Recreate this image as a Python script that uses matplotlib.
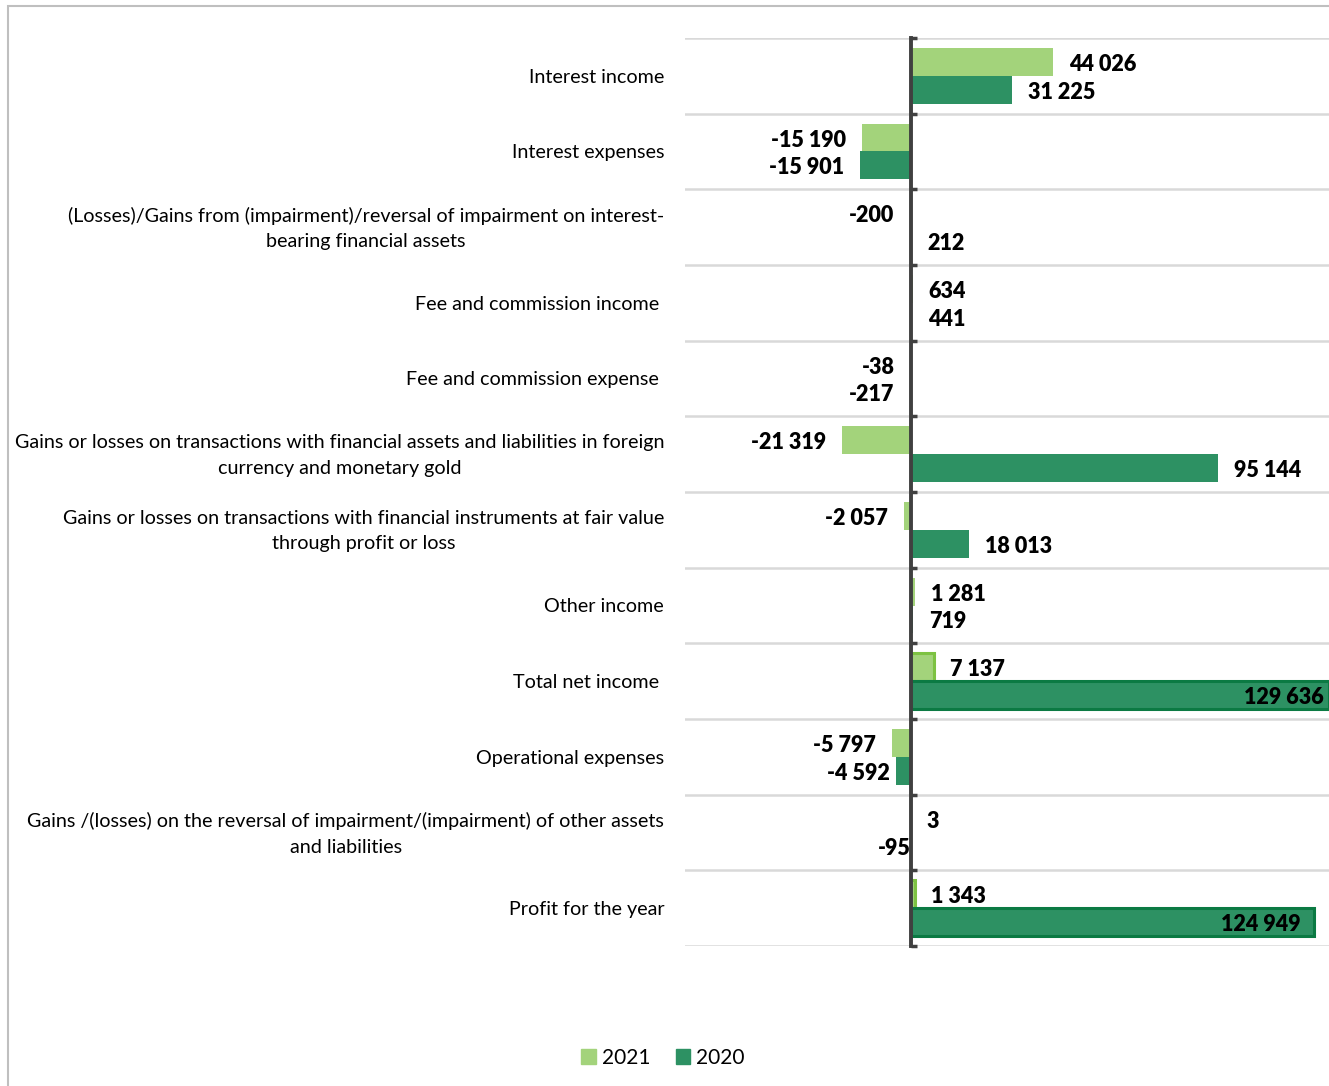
import matplotlib.pyplot as plt
from matplotlib.patches import Rectangle

plt.rcParams['font.family'] = ['Lato', 'DejaVu Sans']

categories = [
    'Interest income',
    'Interest expenses',
    '(Losses)/Gains from (impairment)/reversal of impairment on interest-\nbearing financial assets',
    'Fee and commission income ',
    'Fee and commission expense ',
    'Gains or losses on transactions with financial assets and liabilities in foreign\ncurrency and monetary gold',
    'Gains or losses on transactions with financial instruments at fair value\nthrough profit or loss',
    'Other income',
    'Total net income ',
    'Operational expenses',
    'Gains /(losses) on the reversal of impairment/(impairment) of other assets\nand liabilities',
    'Profit for the year',
]
vals_2021 = [44026, -15190, -200, 634, -38, -21319, -2057, 1281, 7137, -5797, 3, 1343]
vals_2020 = [31225, -15901, 212, 441, -217, 95144, 18013, 719, 129636, -4592, -95, 124949]
totals = [8, 11]   # rows drawn with a border

c21 = '#A3D37B'
c20 = '#2D9163'
e21 = '#7DC242'
e20 = '#0B7A43'

W, H = 1329, 1086
fig = plt.figure(figsize=(W / 100, H / 100), dpi=100)
fig.patches.append(Rectangle((8 / W, -0.1), 1.2, 1 - 6 / H + 0.1, transform=fig.transFigure,
                             fill=False, edgecolor='#BFBFBF', lw=1.5))

ax = fig.add_axes([685 / W, 1 - 946 / H, (W - 685) / W, (946 - 38) / H])

n = len(categories)
ys = list(range(n))
off = 0.183
h = 0.37

def fmt(v):
    s = f'{abs(v):,}'.replace(',', ' ')
    return '-' + s if v < 0 else s

for i in ys:
    for v, yy, col, ecol in [(vals_2021[i], i - off, c21, e21), (vals_2020[i], i + off, c20, e20)]:
        if i in totals:
            ax.barh(yy, v, height=h, color=col, edgecolor=ecol, linewidth=2.2, zorder=2)
        else:
            ax.barh(yy, v, height=h, color=col, edgecolor='none', zorder=2)

# value labels
inside = {(8, 2020): -5, (11, 2020): -13}
nudge = {(9, 2020): 10, (10, 2020): 16}
for i in ys:
    for v, yy, yr in [(vals_2021[i], i - off, 2021), (vals_2020[i], i + off, 2020)]:
        if (i, yr) in inside:
            dx, ha = inside[(i, yr)], 'right'
        elif v >= 0:
            dx, ha = 16, 'left'
        else:
            dx, ha = -16 + nudge.get((i, yr), 0), 'right'
        ax.annotate(fmt(v), xy=(v, yy), xytext=(dx * 0.72, -1.8), textcoords='offset points',
                    ha=ha, va='center', fontsize=15.5, fontweight=800, color='black',
                    zorder=4, annotation_clip=False)

# category labels
for i, cat in zip(ys, categories):
    ax.annotate(cat, xy=(0, i), xycoords=('axes fraction', 'data'), xytext=(-15, -1),
                textcoords='offset points', ha='right', va='center', multialignment='center',
                fontsize=14.2, linespacing=1.6, annotation_clip=False)

for b in range(n + 1):
    ax.axhline(b - 0.5, color='#D9D9D9', lw=1.8, zorder=1)

ax.set_xlim(-70000, 129650)
ax.set_ylim(n - 0.5, -0.5)

ax.set_yticks([])
ax.set_yticks([b - 0.5 for b in range(n + 1)], minor=True)
ax.tick_params(axis='y', which='minor', left=False, right=True, direction='out',
               length=4, width=2.5, color='#404040')
ax.set_xticks([])

for s in ['left', 'top', 'bottom']:
    ax.spines[s].set_visible(False)
ax.spines['right'].set_position(('data', 0))
ax.spines['right'].set_color('#404040')
ax.spines['right'].set_linewidth(2.8)
ax.spines['right'].set_zorder(3)

handles = [Rectangle((0, 0), 1, 1, color=c21), Rectangle((0, 0), 1, 1, color=c20)]
fig.legend(handles, ['2021', '2020'], loc='center', bbox_to_anchor=(663 / W, 1 - 1058 / H),
           ncol=2, frameon=False, fontsize=15, handlelength=0.7, handleheight=0.7,
           handletextpad=0.3, columnspacing=1.2)

fig.savefig('out.png', dpi=100)
